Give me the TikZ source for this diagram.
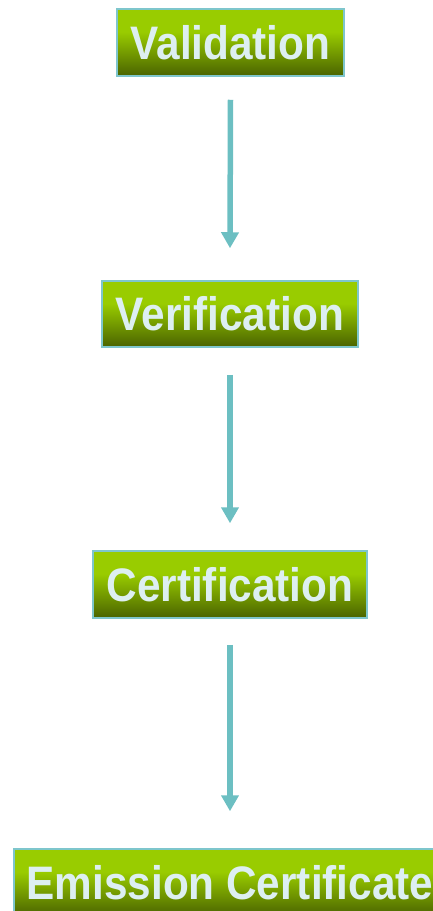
\documentclass[tikz,border=0pt]{standalone}
\usepackage{fontspec}
\usetikzlibrary{arrows.meta}
\newfontfamily\stagefont[FakeStretch=0.9]{Liberation Sans}

\definecolor{stagetop}{HTML}{99CC00}
\definecolor{stagebot}{HTML}{4A6300}
\definecolor{stageedge}{HTML}{7EC6CC}
\definecolor{stagetext}{HTML}{DDEFF1}
\definecolor{flowteal}{HTML}{6CBFC2}

% bright upper third, darkening towards the bottom edge
\pgfdeclareverticalshading{stagegrad}{100bp}{color(0bp)=(stagebot); color(25bp)=(stagebot);
  color(58bp)=(stagetop); color(100bp)=(stagetop)}

\tikzset{
  stagebox/.style={draw=stageedge, line width=1.5pt, inner sep=0pt,
    shading=stagegrad, text=stagetext,
    font=\stagefont\bfseries\fontsize{47}{47}\selectfont},
  flowarrow/.style={draw=flowteal, line width=5.5pt,
    -{Triangle[width=17pt,length=16pt]}}
}

\begin{document}
\begin{tikzpicture}[x=1pt,y=-1pt]

\useasboundingbox (0,0) rectangle (433,911);
\clip (0,0) rectangle (433,911);

\node[stagebox, minimum width=227pt, minimum height=67pt] (val) at (230.5,42.5) {Validation}; % stage 1
\node[stagebox, minimum width=256pt, minimum height=66pt] (ver) at (230,314) {Verification}; % stage 2
\node[stagebox, minimum width=274pt, minimum height=67pt] (cer) at (230,584.5) {Certification}; % stage 3
\node[stagebox, minimum width=432pt, minimum height=67pt] (emi) at (230,882.5) {Emission Certificate}; % result

\draw[flowarrow] ([yshift=-23pt]val.south) -- ([yshift=32pt]ver.north) ;
\draw[flowarrow] ([yshift=-27pt]ver.south) -- ([yshift=27pt]cer.north) ;
\draw[flowarrow] ([yshift=-26pt]cer.south) -- ([yshift=37pt]emi.north) ;

\end{tikzpicture}
\end{document}
